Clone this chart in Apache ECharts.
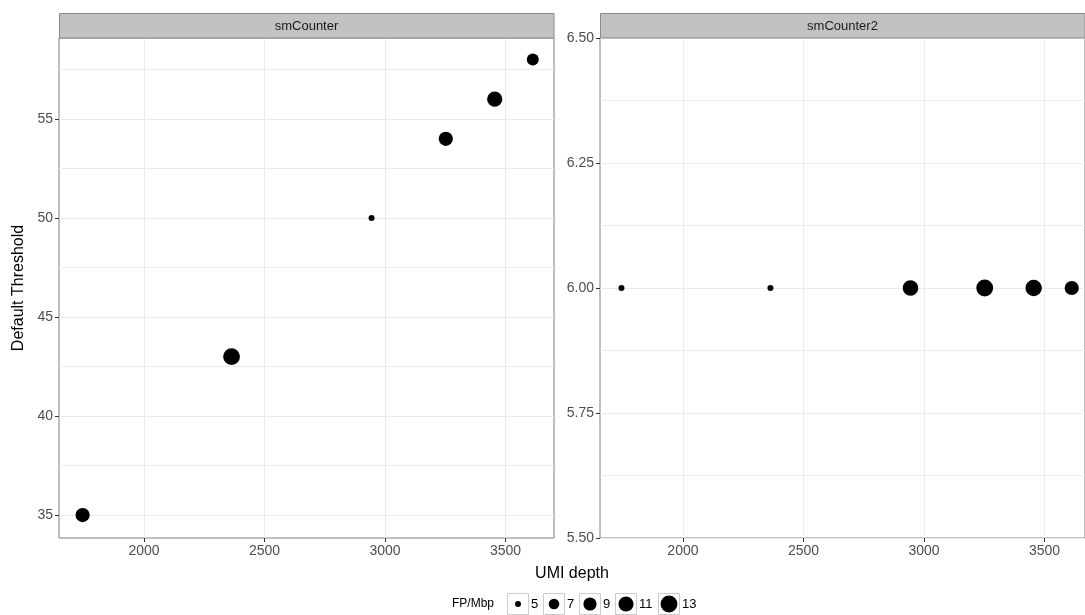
<!DOCTYPE html>
<html>
<head>
<meta charset="utf-8">
<script src="https://cdn.jsdelivr.net/npm/echarts@6/dist/echarts.min.js"></script>
<style>
  html, body { margin: 0; padding: 0; background: #fff; }
  #chart { width: 1085px; height: 615px; }
</style>
</head>
<body>
<div id="chart"></div>
<script>
// values
const panels = ['smCounter', 'smCounter2'];
const umiDepth = [1745, 2363, 2944, 3252, 3455, 3613];
const thresholdA = [35, 43, 50, 54, 56, 58];
const fpA = [10, 13, 5, 10, 11, 8];
const thresholdB = [6, 6, 6, 6, 6, 6];
const fpB = [5, 5, 11.5, 13, 12.5, 10];
const xTicks = [2000, 2500, 3000, 3500];
const yTicksA = [35, 40, 45, 50, 55];
const yMinorA = [37.5, 42.5, 47.5, 52.5, 57.5];
const legendValues = [5, 7, 9, 11, 13];

const font = 'Liberation Sans, Arial, sans-serif';
const tickColor = '#4d4d4d';
const gridColor = '#ebebeb';

// area-like size scale, roughly what ggplot did
function dotSize(v) {
  return 4 + 13 * Math.sqrt(Math.max(0, (v - 4.8) / 8.4));
}

const chart = echarts.init(document.getElementById('chart'));

const axisLabelStyle = { color: tickColor, fontSize: 14, fontFamily: font };
const tickStyle = { show: true, length: 4, lineStyle: { color: '#333', width: 1 } };

function xAxisFor(gridIndex, min, max) {
  return {
    type: 'value', gridIndex, min, max,
    axisLine: { show: false },
    axisTick: Object.assign({ customValues: xTicks }, tickStyle),
    axisLabel: Object.assign({ customValues: xTicks, margin: 6, formatter: v => String(v) }, axisLabelStyle),
    splitLine: { show: true, lineStyle: { color: gridColor, width: 1 } }
  };
}

const option = {
  animation: false,
  grid: [
    { left: 59, right: 1085 - 554, top: 38, bottom: 77, show: true, borderColor: '#7f7f7f', borderWidth: 1, backgroundColor: '#fff' },
    { left: 600, right: 0, top: 38, bottom: 77, show: true, borderColor: '#7f7f7f', borderWidth: 1, backgroundColor: '#fff' }
  ],
  xAxis: [
    xAxisFor(0, 1647, 3701),
    xAxisFor(1, 1656, 3668)
  ],
  yAxis: [
    {
      type: 'value', gridIndex: 0, min: 33.84, max: 59.09,
      axisLine: { show: false },
      axisTick: Object.assign({ customValues: yTicksA }, tickStyle),
      axisLabel: Object.assign({ customValues: yTicksA, margin: 6 }, axisLabelStyle),
      splitLine: { show: false },
      name: 'Default Threshold', nameLocation: 'middle', nameGap: 32,
      nameTextStyle: { color: '#000', fontSize: 16, fontFamily: font }
    },
    {
      // hidden axis that only draws the major + minor grid lines
      type: 'value', gridIndex: 0, min: 33.84, max: 59.09, position: 'left',
      axisLine: { show: false },
      axisTick: { show: false, customValues: yTicksA.concat(yMinorA) },
      axisLabel: { show: false },
      splitLine: { show: true, lineStyle: { color: gridColor, width: 1 } }
    },
    {
      type: 'value', gridIndex: 1, min: 5.5, max: 6.5, interval: 0.25,
      axisLine: { show: false },
      axisTick: tickStyle,
      axisLabel: Object.assign({ margin: 6, formatter: v => v.toFixed(2) }, axisLabelStyle),
      splitLine: { show: true, lineStyle: { color: gridColor, width: 1 } },
      minorTick: { show: false, splitNumber: 2 },
      minorSplitLine: { show: true, lineStyle: { color: gridColor, width: 1 } }
    }
  ],
  graphic: [],
  series: [
    {
      type: 'scatter', xAxisIndex: 0, yAxisIndex: 0,
      data: umiDepth.map((x, i) => [x, thresholdA[i], fpA[i]]),
      symbolSize: d => dotSize(d[2]),
      itemStyle: { color: '#000', opacity: 1 }
    },
    {
      type: 'scatter', xAxisIndex: 1, yAxisIndex: 2,
      data: umiDepth.map((x, i) => [x, thresholdB[i], fpB[i]]),
      symbolSize: d => dotSize(d[2]),
      itemStyle: { color: '#000', opacity: 1 }
    }
  ]
};

// facet strips
const strips = [[59, 554], [600, 1085]];
panels.forEach((name, i) => {
  const [x0, x1] = strips[i];
  option.graphic.push({
    type: 'rect', shape: { x: x0 + 0.5, y: 13.5, width: x1 - x0 - 0.5, height: 24.5 },
    style: { fill: '#c2c2c2', stroke: '#8a8a8a', lineWidth: 1 }, z: 10
  });
  option.graphic.push({
    type: 'text', x: (x0 + x1) / 2, y: 26, z: 11,
    style: { text: name, fill: '#1a1a1a', font: '13px ' + font, textAlign: 'center', textVerticalAlign: 'middle' }
  });
});

// x axis title, centered under both panels
option.graphic.push({
  type: 'text', x: 572, y: 574,
  style: { text: 'UMI depth', fill: '#000', font: '16px ' + font, textAlign: 'center', textVerticalAlign: 'middle' }
});

// size legend
let lx = 452;
const ly = 604;
option.graphic.push({
  type: 'text', x: lx, y: ly,
  style: { text: 'FP/Mbp', fill: '#000', font: '12px ' + font, textAlign: 'left', textVerticalAlign: 'middle' }
});
lx += 55;
legendValues.forEach(v => {
  option.graphic.push({
    type: 'rect', shape: { x: lx + 0.5, y: ly - 10.5, width: 21, height: 21 },
    style: { fill: '#fff', stroke: '#cccccc', lineWidth: 1 }
  });
  option.graphic.push({
    type: 'circle', shape: { cx: lx + 11, cy: ly, r: dotSize(v) / 2 },
    style: { fill: '#000' }
  });
  const label = String(v);
  option.graphic.push({
    type: 'text', x: lx + 24, y: ly,
    style: { text: label, fill: '#000', font: '13px ' + font, textAlign: 'left', textVerticalAlign: 'middle' }
  });
  lx += 24 + label.length * 7 + 5;
});

chart.setOption(option);
</script>
</body>
</html>
